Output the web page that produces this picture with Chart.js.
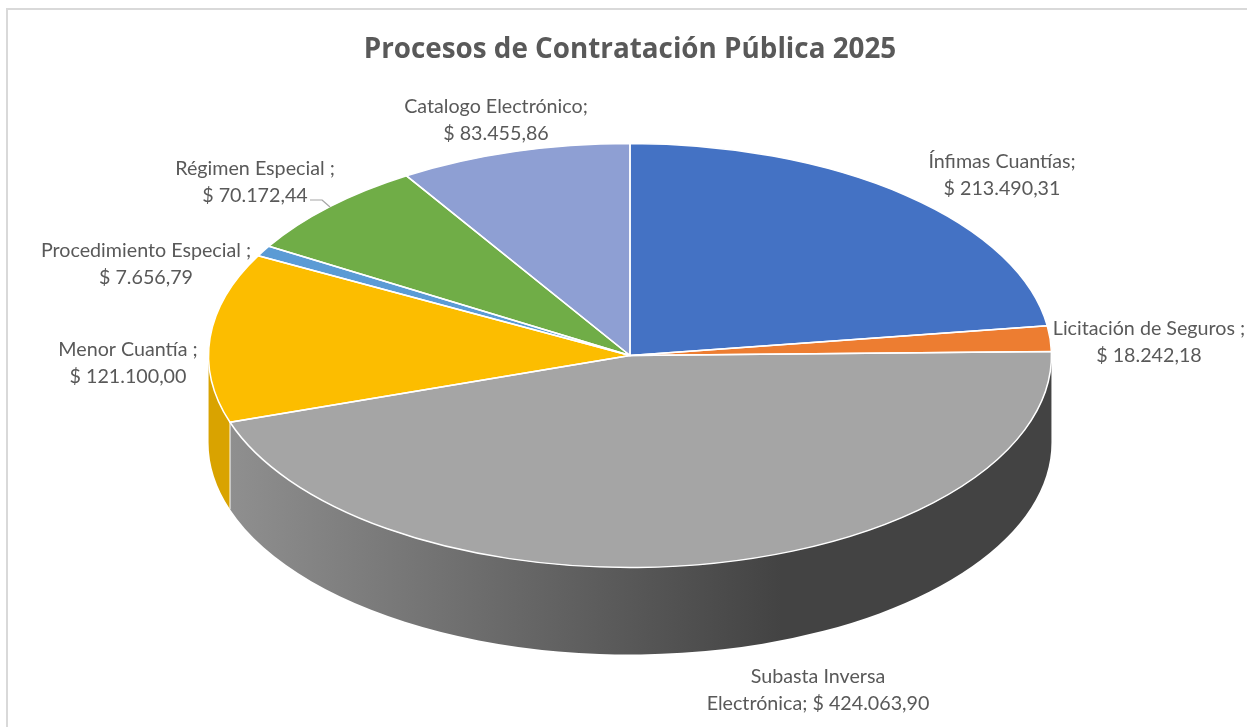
<!DOCTYPE html>
<html lang="es">
<head>
<meta charset="utf-8">
<title>Procesos de Contratación Pública 2025</title>
<script src="https://cdn.jsdelivr.net/npm/chart.js@4"></script>
<style>
  html, body { margin: 0; background: #fff; overflow: hidden; }
  #frame { position: absolute; left: 6px; top: 8px; right: 0; bottom: 0;
           border-left: 2px solid #d9d9d9; border-top: 2px solid #d9d9d9; }
  #pie-chart { position: absolute; left: 0; top: 0; }
</style>
</head>
<body>
<div id="frame"></div>
<canvas id="pie-chart" width="1247" height="727"></canvas>
<script>
const categories = [
  "Ínfimas Cuantías",
  "Licitación de Seguros ",
  "Subasta Inversa Electrónica",
  "Menor Cuantía ",
  "Procedimiento Especial ",
  "Régimen Especial ",
  "Catalogo Electrónico",
];
const amounts = [213490.31, 18242.18, 424063.9, 121100, 7656.79, 70172.44, 83455.86];
const sliceColors = ["#4472c4", "#ed7d31", "#a5a5a5", "#fcbd00", "#5b9bd5", "#70ad47", "#8e9fd3"];
const wallColors = ["#365a9c", "#bd6427", null, "#d9a300", "#497cab", "#5a8a39", "#7280aa"];

// centre of each data label, x and the y of its first line
const labelSpots = [
  [1002, 162], [1149, 329], [818, 677], [128, 350], [146, 251], [255, 169], [496, 107],
];

const stretchX = 421.5 / 212; // pie is a circle of 212 in chart space, flattened by widening it
const wallDepth = 87;
const lineGap = 27;
const textColor = "#595959";
const labelFont = "19.7px Lato, 'Open Sans', sans-serif";

function money(v) {
  const [whole, cents] = v.toFixed(2).split(".");
  return "$ " + whole.replace(/\B(?=(\d{3})+$)/g, ".") + "," + cents;
}

function labelLines(i) {
  const name = categories[i];
  if (i === 2) {
    // this one wraps inside the name in the original
    const cut = name.lastIndexOf(" ");
    return [name.slice(0, cut), name.slice(cut + 1) + "; " + money(amounts[i])];
  }
  return [name + ";", money(amounts[i])];
}

// side wall of the flattened pie, taken from the arcs the controller laid out
const tiltPlugin = {
  id: "tilt",
  beforeDatasetsDraw(chart) {
    const ctx = chart.ctx;
    const arcs = chart.getDatasetMeta(0).data;
    const cx = arcs[0].x, cy = arcs[0].y, ry = arcs[0].outerRadius, rx = ry * stretchX;

    const grayWall = ctx.createLinearGradient(cx - rx, 0, cx + rx, 0);
    grayWall.addColorStop(0, "#929292");
    grayWall.addColorStop(0.68, "#434343");
    grayWall.addColorStop(1, "#434343");

    arcs.forEach((arc, i) => {
      const a0 = Math.max(arc.startAngle, 0);
      const a1 = Math.min(arc.endAngle, Math.PI);
      if (a1 <= a0) return;
      ctx.beginPath();
      ctx.ellipse(cx, cy, rx, ry, 0, a0, a1);
      ctx.ellipse(cx, cy + wallDepth, rx, ry, 0, a1, a0, true);
      ctx.closePath();
      ctx.fillStyle = wallColors[i] || grayWall;
      ctx.fill();
      // seam where two walls meet
      if (a0 > 0) {
        const sx = cx + rx * Math.cos(a0), sy = cy + ry * Math.sin(a0);
        ctx.beginPath();
        ctx.moveTo(sx, sy);
        ctx.lineTo(sx, sy + wallDepth);
        ctx.strokeStyle = "rgba(255,255,255,0.8)";
        ctx.lineWidth = 1.2;
        ctx.stroke();
      }
    });

    ctx.save();
    ctx.translate(cx, cy);
    ctx.scale(stretchX, 1);
    ctx.translate(-cx, -cy);
  },
  afterDatasetsDraw(chart) {
    const ctx = chart.ctx;
    ctx.restore();
    const arcs = chart.getDatasetMeta(0).data;
    const cx = arcs[0].x, cy = arcs[0].y, ry = arcs[0].outerRadius, rx = ry * stretchX;
    // white edges, stroked unscaled so they keep one width all round
    ctx.strokeStyle = "#fff";
    ctx.lineWidth = 1.5;
    ctx.lineJoin = "round";
    arcs.forEach((arc) => {
      ctx.beginPath();
      ctx.moveTo(cx, cy);
      ctx.ellipse(cx, cy, rx, ry, 0, arc.startAngle, arc.endAngle);
      ctx.closePath();
      ctx.stroke();
    });
  },
  afterDraw(chart) {
    const ctx = chart.ctx;
    ctx.save();
    ctx.font = labelFont;
    ctx.fillStyle = textColor;
    ctx.textAlign = "center";
    ctx.textBaseline = "middle";
    labelSpots.forEach(([x, y], i) => {
      labelLines(i).forEach((line, n) => ctx.fillText(line, x, y + n * lineGap));
    });
    // leader line of Régimen Especial
    ctx.strokeStyle = "#a6a6a6";
    ctx.lineWidth = 1.2;
    ctx.beginPath();
    ctx.moveTo(310, 200);
    ctx.lineTo(322, 200);
    ctx.lineTo(330, 207);
    ctx.stroke();
    ctx.restore();
  },
};

new Chart(document.getElementById("pie-chart"), {
  type: "pie",
  data: {
    labels: categories,
    datasets: [
      {
        data: amounts,
        backgroundColor: sliceColors,
        borderWidth: 0,
        clip: false,
      },
    ],
  },
  options: {
    responsive: false,
    animation: false,
    layout: { padding: { left: 13, right: 0, top: 0, bottom: 159.5 } },
    plugins: {
      legend: { display: false },
      tooltip: { enabled: false },
      title: {
        display: true,
        text: "Procesos de Contratación Pública 2025",
        color: textColor,
        font: { family: "'Open Sans', sans-serif", size: 27.8, weight: "bold", lineHeight: 1.2 },
        padding: { top: 33, bottom: 77.2 },
      },
    },
  },
  plugins: [tiltPlugin],
});
</script>
</body>
</html>
